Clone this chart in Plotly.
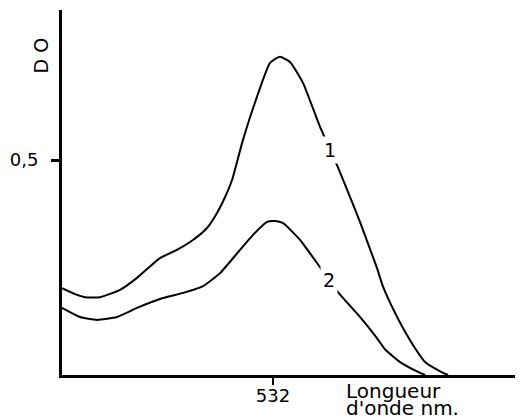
import plotly.graph_objects as go

# Curve 1
wl_1 = [440.0, 445.7, 450.0, 456.6, 465.3, 472.7, 482.7, 490.1, 497.1, 503.2, 507.6, 511.1,
        514.1, 518.9, 525.0, 530.7, 535.0, 539.4, 545.1, 552.5, 559.9, 565.6, 569.9, 574.3,
        577.3, 580.0, 586.1, 590.4, 593.0, 598.3, 606.1, 608.3]
do_1 = [0.202, 0.188, 0.181, 0.181, 0.198, 0.226, 0.272, 0.291, 0.314, 0.342, 0.377, 0.414,
        0.453, 0.547, 0.647, 0.726, 0.740, 0.728, 0.679, 0.577, 0.488, 0.414, 0.356, 0.293,
        0.249, 0.205, 0.135, 0.093, 0.070, 0.030, 0.005, 0.0]

# Curve 2
wl_2 = [440.0, 447.8, 455.3, 464.0, 472.7, 484.0, 492.8, 501.5, 508.9, 517.6, 523.3, 529.4,
        532.9, 536.4, 543.8, 553.4, 560.3, 569.9, 577.3, 580.8, 587.4, 596.1, 598.3]
do_2 = [0.156, 0.135, 0.128, 0.135, 0.156, 0.179, 0.191, 0.207, 0.237, 0.291, 0.326, 0.356,
        0.358, 0.353, 0.314, 0.244, 0.193, 0.135, 0.086, 0.060, 0.030, 0.005, 0.0]

x_tick_vals = [532]
x_tick_text = ["532"]
y_tick_vals = [0.5]
y_tick_text = ["0,5"]

curve_labels = ["1", "2"]
label_pos_x = [556.8, 556.4]
label_pos_y = [0.523, 0.221]

FONT = "DejaVu Sans, sans-serif"

# the page body has an 8px margin; figure is sized to fill the rest of the window
OFF = 8
W, H = 526 - OFF, 420 - OFF
ML, MR, MT, MB = 62 - OFF, 11, 10 - OFF, 45
pw, ph = W - ML - MR, H - MT - MB


def px(xp):
    return (xp - OFF - ML) / pw


def py(yp):
    return (H - (yp - OFF) - MB) / ph


fig = go.Figure()
fig.add_trace(go.Scatter(x=wl_1, y=do_1, mode="lines",
                         line=dict(color="black", width=2, shape="spline", smoothing=0.5),
                         showlegend=False, hoverinfo="skip"))
fig.add_trace(go.Scatter(x=wl_2, y=do_2, mode="lines",
                         line=dict(color="black", width=2, shape="spline", smoothing=0.5),
                         showlegend=False, hoverinfo="skip"))

for t, xx, yy in zip(curve_labels, label_pos_x, label_pos_y):
    fig.add_annotation(x=xx, y=yy, xref="x", yref="y", text=t, showarrow=False,
                       font=dict(family=FONT, size=19, color="black"),
                       bgcolor="white", borderpad=2)

fig.add_annotation(x=px(41), y=py(55.5), xref="paper", yref="paper", text="D O", showarrow=False,
                   textangle=-90, xanchor="center", yanchor="middle",
                   font=dict(family=FONT, size=19, color="black"))
fig.add_annotation(x=px(344), y=py(391), xref="paper", yref="paper",
                   text="Longueur", showarrow=False, xanchor="left", yanchor="middle",
                   font=dict(family=FONT, size=20, color="black"))
fig.add_annotation(x=px(344), y=py(408), xref="paper", yref="paper",
                   text="d'onde nm.", showarrow=False, xanchor="left", yanchor="middle",
                   font=dict(family=FONT, size=20, color="black"))

fig.update_layout(
    width=W, height=H,
    margin=dict(l=ML, r=MR, t=MT, b=MB, autoexpand=False),
    paper_bgcolor="white", plot_bgcolor="white",
    font=dict(family=FONT, color="black"),
    xaxis=dict(range=[440, 637.5], showgrid=False, zeroline=False, showline=True, automargin=False,
               linecolor="black", linewidth=3, ticks="outside", ticklen=7, tickwidth=2,
               tickcolor="black", tickvals=x_tick_vals, ticktext=x_tick_text,
               tickfont=dict(family=FONT, size=18, color="black"), ticklabelstandoff=-5),
    yaxis=dict(range=[0, 0.849], showgrid=False, zeroline=False, showline=True, automargin=False,
               linecolor="black", linewidth=3, ticks="outside", ticklen=8, tickwidth=3,
               tickcolor="black", tickvals=y_tick_vals, ticktext=y_tick_text,
               tickfont=dict(family=FONT, size=18, color="black"), ticklabelstandoff=9),
)

fig.write_html("out.html")
